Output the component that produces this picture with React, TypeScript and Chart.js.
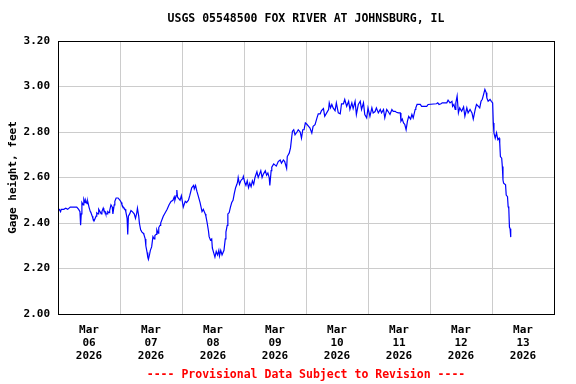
import React, { useEffect, useRef } from 'react';
import { Chart, registerables } from 'chart.js';

Chart.register(...registerables);

const chartTitle = 'USGS 05548500 FOX RIVER AT JOHNSBURG, IL';
const yAxisTitle = 'Gage height, feet';
const footnote = '---- Provisional Data Subject to Revision ----';
const monthLabel = 'Mar';
const yearLabel = '2026';
const dayLabels = ['06', '07', '08', '09', '10', '11', '12', '13'];
const yMin = 2.0;
const yMax = 3.2;
const yStep = 0.2;

// [hour of day, gage height ft]
const mar06: [number, number][] = [
  [0, 2.46], [0.5, 2.46], [1.0, 2.45], [1.25, 2.46], [2.25, 2.46], [3.0, 2.465], [3.75, 2.46],
  [4.75, 2.47], [6.25, 2.47], [7.25, 2.47], [8.0, 2.46], [8.5, 2.45], [8.75, 2.39], [9.0, 2.44],
  [9.25, 2.49], [9.75, 2.48], [10.0, 2.505], [10.5, 2.49], [10.75, 2.5], [11.25, 2.485],
  [11.5, 2.495], [12.0, 2.47], [12.5, 2.45], [12.75, 2.445], [13.25, 2.43], [13.5, 2.42],
  [14.0, 2.41], [14.75, 2.43], [15.0, 2.445], [15.5, 2.44], [15.75, 2.46], [16.25, 2.45],
  [16.75, 2.44], [17.0, 2.45], [17.5, 2.465], [17.75, 2.455], [18.25, 2.45], [18.5, 2.44],
  [19.0, 2.44], [19.25, 2.45], [19.75, 2.445], [20.0, 2.455], [20.5, 2.48], [21.0, 2.47],
  [21.25, 2.44], [21.75, 2.48], [22.0, 2.495], [22.5, 2.51], [23.25, 2.51],
];
const mar07: [number, number][] = [
  [0.0, 2.5], [0.5, 2.49], [0.75, 2.48], [1.25, 2.47], [1.5, 2.465], [2.0, 2.46], [2.25, 2.45],
  [2.75, 2.42], [3.0, 2.35], [3.25, 2.43], [3.75, 2.44], [4.25, 2.455], [4.75, 2.45], [5.0, 2.45],
  [5.5, 2.44], [6.0, 2.42], [6.5, 2.445], [6.75, 2.465], [7.25, 2.43], [7.5, 2.4], [8.0, 2.37],
  [8.5, 2.36], [9.0, 2.355], [9.25, 2.35], [9.75, 2.33], [10.0, 2.3], [10.5, 2.27], [10.75, 2.25],
  [11.0, 2.24], [11.5, 2.265], [11.75, 2.28], [12.25, 2.295], [12.75, 2.34], [13.25, 2.33],
  [13.5, 2.345], [14.0, 2.35], [14.25, 2.37], [14.75, 2.355], [15.0, 2.38], [15.5, 2.39],
  [15.75, 2.4], [16.75, 2.43], [17.5, 2.445], [18.25, 2.46], [19.0, 2.48], [19.75, 2.495],
  [20.5, 2.5], [21.0, 2.515], [21.25, 2.5], [21.75, 2.52], [22.0, 2.545], [22.25, 2.515],
  [22.5, 2.51], [23.25, 2.5], [23.75, 2.52],
];
const mar08: [number, number][] = [
  [0.5, 2.47], [1.25, 2.495], [1.75, 2.49], [2.5, 2.5], [3.0, 2.52], [3.75, 2.555], [4.5, 2.565],
  [4.75, 2.55], [5.25, 2.565], [5.75, 2.54], [6.25, 2.52], [7.0, 2.49], [7.75, 2.45], [8.25, 2.46],
  [9.0, 2.44], [9.25, 2.43], [9.75, 2.4], [10.25, 2.365], [10.5, 2.34], [11.0, 2.325], [11.5, 2.33],
  [11.75, 2.29], [12.25, 2.27], [12.75, 2.25], [13.25, 2.275], [13.75, 2.26], [14.25, 2.28],
  [14.5, 2.255], [15.0, 2.28], [15.5, 2.26], [16.25, 2.28], [16.75, 2.33], [17.0, 2.36],
  [17.5, 2.39], [17.75, 2.44], [18.25, 2.445], [18.75, 2.47], [19.25, 2.49], [19.75, 2.5],
  [20.25, 2.53], [20.75, 2.555], [21.25, 2.57], [21.5, 2.58], [21.75, 2.6], [22.25, 2.57],
  [22.75, 2.585], [23.0, 2.59], [23.5, 2.595], [23.75, 2.605],
];
const mar09: [number, number][] = [
  [0.25, 2.58], [0.75, 2.565], [1.25, 2.585], [1.75, 2.555], [2.25, 2.575], [2.75, 2.56],
  [3.25, 2.585], [3.75, 2.57], [4.25, 2.6], [5.0, 2.625], [5.5, 2.6], [6.0, 2.615], [6.5, 2.63],
  [7.0, 2.6], [7.5, 2.615], [8.25, 2.63], [8.75, 2.61], [9.25, 2.62], [9.75, 2.6], [10.0, 2.565],
  [10.5, 2.63], [10.75, 2.645], [11.5, 2.66], [12.5, 2.65], [13.25, 2.67], [14.0, 2.677],
  [14.5, 2.663], [15.25, 2.677], [15.75, 2.67], [16.5, 2.64], [16.75, 2.692], [17.5, 2.707],
  [18.0, 2.73], [18.5, 2.78], [18.75, 2.803], [19.25, 2.81], [19.75, 2.788], [20.5, 2.8],
  [21.0, 2.81], [21.75, 2.8], [22.25, 2.773], [22.75, 2.81], [23.25, 2.81], [23.75, 2.84],
];
const mar10: [number, number][] = [
  [0.25, 2.835], [1.0, 2.825], [1.5, 2.818], [2.25, 2.795], [2.75, 2.825], [3.5, 2.832],
  [4.25, 2.862], [4.75, 2.88], [5.5, 2.88], [6.0, 2.894], [6.75, 2.903], [7.25, 2.869],
  [8.0, 2.884], [8.75, 2.899], [9.0, 2.928], [9.5, 2.906], [10.0, 2.921], [10.5, 2.906],
  [11.25, 2.894], [11.75, 2.928], [12.5, 2.884], [13.25, 2.88], [13.75, 2.924], [14.5, 2.924],
  [15.0, 2.943], [15.75, 2.913], [16.5, 2.935], [17.0, 2.899], [17.75, 2.928], [18.25, 2.903],
  [19.0, 2.935], [19.5, 2.877], [20.25, 2.921], [21.0, 2.935], [21.5, 2.899], [22.25, 2.928],
  [22.75, 2.877], [23.5, 2.862],
];
const mar11: [number, number][] = [
  [0.0, 2.906], [0.75, 2.869], [1.5, 2.906], [2.0, 2.884], [2.75, 2.89], [3.25, 2.906],
  [4.0, 2.884], [4.75, 2.899], [5.25, 2.884], [6.0, 2.899], [6.5, 2.862], [7.25, 2.899],
  [7.75, 2.891], [8.5, 2.877], [9.25, 2.899], [9.75, 2.891], [10.5, 2.891], [11.0, 2.887],
  [11.75, 2.884], [12.5, 2.884], [12.75, 2.847], [13.25, 2.857], [13.75, 2.84], [14.25, 2.833],
  [14.75, 2.81], [15.25, 2.847], [15.75, 2.869], [16.5, 2.857], [17.0, 2.877], [17.5, 2.862],
  [18.25, 2.899], [18.5, 2.906], [19.0, 2.921], [20.25, 2.921], [20.75, 2.913], [22.75, 2.913],
  [23.25, 2.921],
];
const mar12: [number, number][] = [
  [2.5, 2.924], [3.0, 2.928], [3.5, 2.921], [4.25, 2.924], [4.75, 2.928], [6.5, 2.928],
  [7.0, 2.94], [7.75, 2.928], [8.5, 2.935], [8.75, 2.913], [9.25, 2.921], [9.75, 2.899],
  [10.0, 2.928], [10.5, 2.958], [11.0, 2.884], [11.5, 2.906], [12.25, 2.891], [13.0, 2.91],
  [13.5, 2.869], [14.25, 2.906], [14.75, 2.884], [15.5, 2.899], [16.25, 2.884], [16.75, 2.857],
  [17.5, 2.899], [18.0, 2.921], [18.75, 2.913], [19.25, 2.906], [19.75, 2.935], [20.25, 2.944],
  [20.75, 2.965], [21.25, 2.987], [21.75, 2.973], [22.0, 2.95], [22.5, 2.935], [23.25, 2.943],
  [23.75, 2.935],
];
const mar13: [number, number][] = [
  [0.25, 2.928], [0.5, 2.84], [0.75, 2.796], [1.25, 2.773], [1.75, 2.796], [2.25, 2.766],
  [2.75, 2.773], [3.0, 2.751], [3.25, 2.692], [3.75, 2.685], [4.0, 2.648], [4.25, 2.589],
  [4.5, 2.575], [5.25, 2.568], [5.5, 2.523], [6.0, 2.516], [6.25, 2.472], [6.5, 2.464],
  [6.75, 2.382], [7.0, 2.375], [7.25, 2.338],
];

const days = [mar06, mar07, mar08, mar09, mar10, mar11, mar12, mar13];

const FONT = "'DejaVu Sans Mono', 'Liberation Mono', monospace";

const framePlugin = {
  id: 'frame',
  afterDraw(chart: any) {
    const { ctx, chartArea } = chart;
    ctx.save();
    ctx.strokeStyle = '#000000';
    ctx.lineWidth = 1;
    ctx.strokeRect(
      Math.round(chartArea.left) + 0.5,
      Math.round(chartArea.top) + 0.5,
      Math.round(chartArea.right - chartArea.left),
      Math.round(chartArea.bottom - chartArea.top)
    );
    const cx = (chartArea.left + chartArea.right) / 2;
    ctx.textAlign = 'center';
    ctx.textBaseline = 'middle';
    ctx.font = `bold 11.5px ${FONT}`;
    ctx.fillStyle = '#000000';
    ctx.fillText(chartTitle, cx, 19);
    ctx.fillStyle = '#ff0000';
    ctx.fillText(footnote, cx, chart.height - 9);
    ctx.restore();
  },
};

export default function App() {
  const canvasRef = useRef<HTMLCanvasElement | null>(null);

  useEffect(() => {
    document.body.style.margin = '0';
    const canvas = canvasRef.current;
    if (!canvas) return;
    const points = days.flatMap((d, i) => d.map(([h, v]) => ({ x: i * 24 + h, y: v })));

    const chart = new Chart(canvas, {
      type: 'line',
      data: {
        datasets: [
          {
            data: points,
            borderColor: '#0000ff',
            borderWidth: 1.2,
            pointRadius: 0,
            tension: 0,
            fill: false,
          },
        ],
      },
      options: {
        responsive: false,
        animation: false,
        layout: { padding: { left: 0, right: 22, top: 41, bottom: 16 } },
        plugins: {
          legend: { display: false },
          tooltip: { enabled: false },
          title: { display: false },
          subtitle: { display: false },
        },
        scales: {
          x: {
            type: 'linear',
            min: 0,
            max: days.length * 24,
            afterFit(scale: any) {
              scale.height = 54;
            },
            border: { display: false },
            grid: {
              drawTicks: false,
              color: (ctx: any) =>
                ctx.tick && Math.round(ctx.tick.value) % 24 === 0 ? '#cccccc' : 'rgba(0,0,0,0)',
              lineWidth: 1,
            },
            ticks: {
              stepSize: 12,
              autoSkip: false,
              maxRotation: 0,
              minRotation: 0,
              padding: 10,
              color: '#000000',
              font: { family: FONT, size: 11, weight: 'bold', lineHeight: '13px' },
              callback: (value: any) => {
                const v = Math.round(Number(value));
                if (v % 24 === 12) {
                  const idx = (v - 12) / 24;
                  return [monthLabel, dayLabels[idx], yearLabel];
                }
                return '';
              },
            },
          },
          y: {
            type: 'linear',
            min: yMin,
            max: yMax,
            afterFit(scale: any) {
              scale.width = 58;
            },
            border: { display: false },
            grid: { drawTicks: false, color: '#cccccc', lineWidth: 1 },
            ticks: {
              stepSize: yStep,
              padding: 8,
              color: '#000000',
              font: { family: FONT, size: 11, weight: 'bold' },
              callback: (value: any) => Number(value).toFixed(2),
            },
            title: {
              display: true,
              text: yAxisTitle,
              color: '#000000',
              font: { family: FONT, size: 11, weight: 'bold', lineHeight: '14px' },
              padding: { top: 6, bottom: 0 },
            },
          },
        },
      },
      plugins: [framePlugin],
    });
    return () => chart.destroy();
  }, []);

  return (
    <div style={{ position: 'absolute', left: 0, top: 0, width: 576, height: 384 }}>
      <canvas ref={canvasRef} width={576} height={384} />
    </div>
  );
}
